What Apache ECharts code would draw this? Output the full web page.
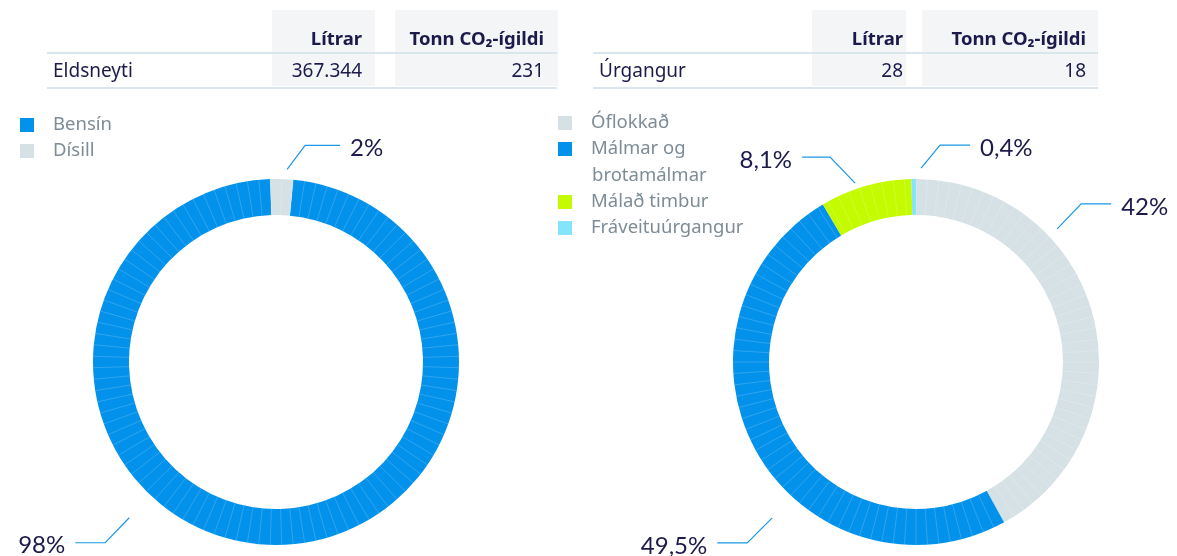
<!DOCTYPE html>
<html>
<head>
<meta charset="utf-8">
<script src="https://cdn.jsdelivr.net/npm/echarts@6/dist/echarts.min.js"></script>
<style>
  html, body { margin: 0; padding: 0; background: #fff; }
  #chart { width: 1177px; height: 556px; }
</style>
</head>
<body>
<div id="chart"></div>
<script>
// gögn
const fuelNames = ['Bensín', 'Dísill']
const fuelShares = [98, 2]
const wasteNames = ['Óflokkað', 'Málmar og brotamálmar', 'Málað timbur', 'Fráveituúrgangur']
const wasteShares = [42, 49.5, 8.1, 0.4]
const tableHeaders = ['Lítrar', 'Tonn CO₂-ígildi']
const fuelRow = ['Eldsneyti', 367344, 231]
const wasteRow = ['Úrgangur', 28, 18]

const navy = '#1c1a4b'
const grey = '#7d8c96'
const lineBlue = '#1a98e6'
const fuelColors = ['#0392eb', '#d6e1e6']
const wasteColors = ['#d6e1e6', '#0392eb', '#c5fb00', '#84e4fd']

const R_IN = 147
const R_OUT = 183
const fuelCenter = [276, 362]
const wasteCenter = [916, 362]

// leiðarlínur merkinga: [horn, radíus, dx, dy, lárétt lengd]
const fuelGuides = [
  [223.3, 214, -24, 25, 30],
  [3.3, 193, 18, -24, 35]
]
const wasteGuides = [
  [46.7, 194, 24, -25, 30],
  [222.7, 212, -25, 25, 30],
  [341.2, 189, -25, -26, 28],
  [1.5, 194, 19, -23, 30]
]

const fmtNum = (v) => String(v).replace(/\B(?=(\d{3})+(?!\d))/g, '.')
const fmtPct = (v) => String(v).replace('.', ',') + '%'

const makeLayout = (center, guides) => (params) => {
  const g = guides[params.dataIndex]
  const a = (g[0] * Math.PI) / 180
  const x0 = center[0] + g[1] * Math.sin(a)
  const y0 = center[1] - g[1] * Math.cos(a)
  const x1 = x0 + g[2]
  const y1 = y0 + g[3]
  const side = g[2] < 0 ? -1 : 1
  const x2 = x1 + side * g[4]
  return {
    x: x2 + side * 10,
    y: y1 + 3,
    align: side < 0 ? 'right' : 'left',
    verticalAlign: 'middle',
    labelLinePoints: [[x0, y0], [x1, y1], [x2, y1]]
  }
}

const pieSeries = (names, values, colors, center, startAngle, guides) => ({
  type: 'pie',
  center: center,
  radius: [R_IN, R_OUT],
  startAngle: startAngle,
  clockwise: true,
  silent: true,
  z: 2,
  avoidLabelOverlap: false,
  label: {
    show: true,
    position: 'outside',
    formatter: (p) => fmtPct(p.value),
    color: navy,
    fontSize: 24,
    fontFamily: 'Lato'
  },
  labelLine: { show: true, lineStyle: { color: lineBlue, width: 1.2 } },
  labelLayout: makeLayout(center, guides),
  data: names.map((n, i) => ({ name: n, value: values[i], itemStyle: { color: colors[i] } }))
})

// skiptilínur í hringnum
const segAxis = (idx, startAngle) => ({
  polarIndex: idx,
  type: 'value',
  min: 0,
  max: 100,
  interval: 1,
  startAngle: startAngle,
  clockwise: true,
  z: 10,
  axisLine: { show: false },
  axisLabel: { show: false },
  splitLine: { show: false },
  axisTick: { show: true, inside: true, length: R_OUT - R_IN, lineStyle: { color: 'rgba(255,255,255,0.22)', width: 0.8 } }
})

const tableFont = '"Noto Sans", sans-serif'
const txt = (text, x, y, align, bold) => ({
  type: 'text',
  x: x,
  y: y,
  style: {
    text: text,
    fill: navy,
    fontSize: bold ? 18.5 : 19,
    fontWeight: bold ? 'bold' : 'normal',
    fontFamily: tableFont,
    align: align,
    verticalAlign: 'middle'
  }
})
const rect = (x, y, w, h) => ({ type: 'rect', shape: { x, y, width: w, height: h }, style: { fill: '#f4f5f7' }, z: -1 })
const hline = (x1, x2, y) => ({ type: 'line', shape: { x1, y1: y, x2, y2: y }, style: { stroke: '#dbe5ec', lineWidth: 2 } })

const buildTable = (row, left, right, col1, col2, c1Right, c2Right) => [
  rect(col1[0], 10, col1[1] - col1[0], 76),
  rect(col2[0], 10, col2[1] - col2[0], 76),
  hline(left, right, 53),
  hline(left, right, 88),
  txt(tableHeaders[0], c1Right, 40, 'right', true),
  txt(tableHeaders[1], c2Right, 40, 'right', true),
  txt(row[0], left + 6, 72, 'left', false),
  txt(fmtNum(row[1]), c1Right, 72, 'right', false),
  txt(fmtNum(row[2]), c2Right, 72, 'right', false)
]

const legendBase = {
  orient: 'vertical',
  icon: 'rect',
  itemWidth: 14,
  itemHeight: 14,
  itemGap: 0,
  padding: 0,
  selectedMode: false,
  textStyle: { color: grey, fontSize: 18.5, fontFamily: tableFont, lineHeight: 26, padding: [0, 0, 0, 14] }
}

const chart = echarts.init(document.getElementById('chart'))
chart.setOption({
  animation: false,
  legend: [
    Object.assign({}, legendBase, { left: 20, top: 112, data: fuelNames }),
    Object.assign({}, legendBase, {
      left: 558,
      top: 110,
      data: wasteNames.slice(0, 2),
      formatter: (n) => (n === wasteNames[1] ? 'Málmar og' : n)
    }),
    Object.assign({}, legendBase, { left: 558, top: 189, data: wasteNames.slice(2) })
  ],
  polar: [
    { center: fuelCenter, radius: R_OUT },
    { center: wasteCenter, radius: R_OUT }
  ],
  angleAxis: [segAxis(0, 84.6), segAxis(1, 90)],
  radiusAxis: [
    { polarIndex: 0, show: false },
    { polarIndex: 1, show: false }
  ],
  graphic: [
    ...buildTable(fuelRow, 47, 557, [272, 375], [395, 558], 362, 544),
    ...buildTable(wasteRow, 593, 1098, [812, 906], [922, 1098], 903, 1086),
    {
      type: 'text',
      x: 592,
      y: 176,
      style: { text: 'brotamálmar', fill: grey, fontSize: 18.5, fontFamily: tableFont, verticalAlign: 'middle' }
    }
  ],
  series: [
    pieSeries(fuelNames, fuelShares, fuelColors, fuelCenter, 84.6, fuelGuides),
    pieSeries(wasteNames, wasteShares, wasteColors, wasteCenter, 90, wasteGuides)
  ]
})
</script>
</body>
</html>
